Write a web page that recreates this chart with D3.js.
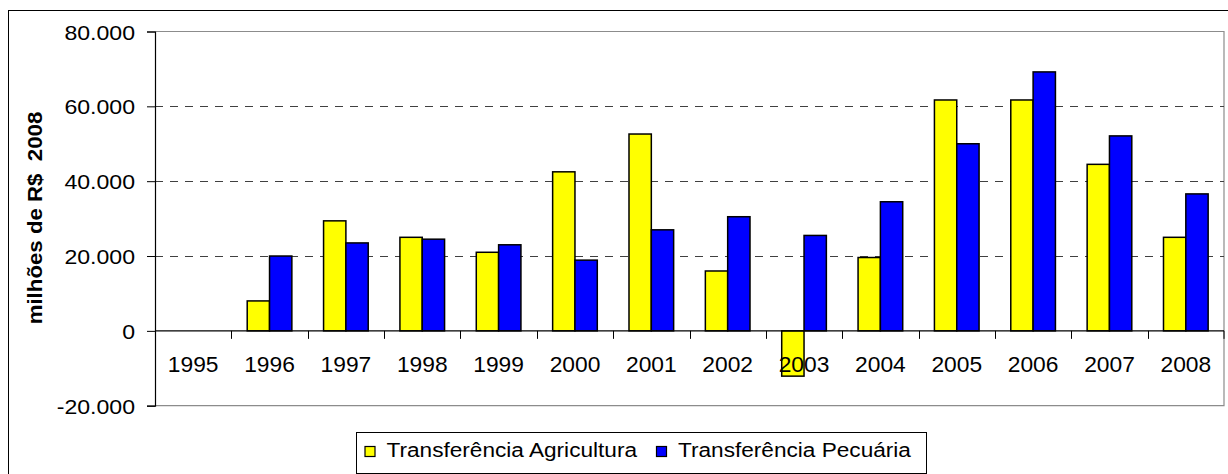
<!DOCTYPE html>
<html>
<head>
<meta charset="utf-8">
<script src="https://cdn.jsdelivr.net/npm/d3@7"></script>
<style>
  body { margin: 0; background: #fff; }
  svg { display: block; font-family: "Liberation Sans", Arial, sans-serif; }
</style>
</head>
<body>
<script>
var years = ["1995", "1996", "1997", "1998", "1999", "2000", "2001", "2002", "2003", "2004", "2005", "2006", "2007", "2008"];
var agricultura = [null, 8000, 29400, 25000, 21000, 42500, 52600, 16000, -12100, 19600, 61700, 61700, 44500, 25000];
var pecuaria = [null, 20000, 23500, 24500, 23000, 18900, 27000, 30500, 25500, 34500, 50000, 69200, 52100, 36600];
var seriesNames = ["Transferência Agricultura", "Transferência Pecuária"];
var seriesColors = ["#ffff00", "#0000ff"];
var yTicks = [-20000, 0, 20000, 40000, 60000, 80000];

var width = 1228, height = 474;
var plot = { left: 155, top: 31.5, right: 1224, bottom: 405.7 };

var svg = d3.select("body").append("svg")
    .attr("width", width)
    .attr("height", height);

// the source picture has slightly wide lettering, so text gets a horizontal stretch
function placeText(sel, px, py, sx) {
    sel.attr("x", 0).attr("y", 0)
        .attr("transform", "translate(" + px + "," + py + ") scale(" + sx + ",1)");
}

// outer chart frame (right and bottom edges fall outside the picture)
svg.append("rect")
    .attr("x", 8.5).attr("y", 10.5)
    .attr("width", 1240).attr("height", 480)
    .attr("fill", "none")
    .attr("stroke", "#000")
    .attr("stroke-width", 1);

var x = d3.scaleBand()
    .domain(years)
    .range([plot.left, plot.right])
    .padding(0);

var xSub = d3.scaleBand()
    .domain(seriesNames)
    .range([0, x.bandwidth()])
    .paddingInner(0)
    .paddingOuter(0.71);

var y = d3.scaleLinear()
    .domain([-20000, 80000])
    .range([plot.bottom, plot.top]);

var br = d3.formatLocale({ decimal: ",", thousands: ".", grouping: [3], currency: ["R$", ""], minus: "-" });
var fmt = br.format(",.0f");

// plot area border (grey top/right/bottom)
svg.append("path")
    .attr("d", "M" + plot.left + "," + plot.top + "H" + plot.right + "V" + plot.bottom + "H" + plot.left)
    .attr("fill", "none")
    .attr("stroke", "#8c8c8c")
    .attr("stroke-width", 1.2);

// dashed gridlines
svg.append("g")
    .selectAll("line")
    .data([20000, 40000, 60000])
    .enter().append("line")
    .attr("x1", plot.left).attr("x2", plot.right)
    .attr("y1", function (d) { return Math.round(y(d)) + 0.5; })
    .attr("y2", function (d) { return Math.round(y(d)) + 0.5; })
    .attr("stroke", "#404040")
    .attr("stroke-width", 1)
    .attr("stroke-dasharray", "8,7");

// bars
var rows = years.map(function (yr, i) {
    return { year: yr, values: [agricultura[i], pecuaria[i]] };
});

var groups = svg.append("g")
    .selectAll("g")
    .data(rows)
    .enter().append("g")
    .attr("transform", function (d) { return "translate(" + x(d.year) + ",0)"; });

groups.selectAll("rect")
    .data(function (d) {
        return d.values.map(function (v, j) { return { name: seriesNames[j], value: v, color: seriesColors[j] }; })
            .filter(function (e) { return e.value !== null; });
    })
    .enter().append("rect")
    .attr("x", function (d) { return xSub(d.name); })
    .attr("width", xSub.bandwidth())
    .attr("y", function (d) { return y(Math.max(0, d.value)); })
    .attr("height", function (d) { return Math.abs(y(d.value) - y(0)); })
    .attr("fill", function (d) { return d.color; })
    .attr("stroke", "#000")
    .attr("stroke-width", 1.5);

// y axis
var yAxis = svg.append("g")
    .attr("transform", "translate(" + plot.left + ",0)")
    .call(d3.axisLeft(y).tickValues(yTicks).tickFormat(fmt).tickSize(8).tickPadding(12));
yAxis.select(".domain").attr("stroke", "#000").attr("stroke-width", 1.2);
yAxis.selectAll(".tick line").attr("stroke", "#000");
yAxis.selectAll("text")
    .attr("font-size", 21)
    .attr("fill", "#000")
    .attr("font-family", "Liberation Sans, Arial, sans-serif")
    .attr("dy", null)
    .call(placeText, -20, 7.5, 1.1);

// zero line with category separator ticks
svg.append("line")
    .attr("x1", plot.left).attr("x2", plot.right)
    .attr("y1", y(0)).attr("y2", y(0))
    .attr("stroke", "#000")
    .attr("stroke-width", 1.2);

svg.append("g")
    .selectAll("line")
    .data(years.slice(1).concat(["end"]))
    .enter().append("line")
    .attr("x1", function (d) { return d === "end" ? plot.right : Math.round(x(d)) + 0.5; })
    .attr("x2", function (d) { return d === "end" ? plot.right : Math.round(x(d)) + 0.5; })
    .attr("y1", y(0)).attr("y2", y(0) + 8)
    .attr("stroke", "#000")
    .attr("stroke-width", 1);

// year labels
svg.append("g")
    .selectAll("text")
    .data(years)
    .enter().append("text")
    .attr("text-anchor", "middle")
    .attr("font-size", 21.5)
    .text(function (d) { return d; })
    .each(function (d) {
        d3.select(this).call(placeText, x(d) + x.bandwidth() / 2, 371.5, 1.06);
    });

// y axis title
svg.append("text")
    .attr("transform", "translate(41.5,218) rotate(-90) scale(1.06,1)")
    .attr("text-anchor", "middle")
    .attr("font-size", 21)
    .attr("font-weight", "bold")
    .style("white-space", "pre")
    .text("milhões de R$  2008");

// legend
var legend = svg.append("g");
legend.append("rect")
    .attr("x", 356.5).attr("y", 432.5)
    .attr("width", 570).attr("height", 41)
    .attr("fill", "#fff")
    .attr("stroke", "#000")
    .attr("stroke-width", 1);

var legendX = [365, 656.5];
var items = legend.selectAll("g.item")
    .data(seriesNames)
    .enter().append("g")
    .attr("class", "item")
    .attr("transform", function (d, i) { return "translate(" + legendX[i] + ",0)"; });

items.append("rect")
    .attr("x", 0).attr("y", 446.5)
    .attr("width", 10).attr("height", 10)
    .attr("fill", function (d, i) { return seriesColors[i]; })
    .attr("stroke", "#000")
    .attr("stroke-width", 1.2);

items.append("text")
    .attr("font-size", 19.5)
    .text(function (d) { return d; })
    .call(placeText, 21.5, 457.3, 1.16);
</script>
</body>
</html>
